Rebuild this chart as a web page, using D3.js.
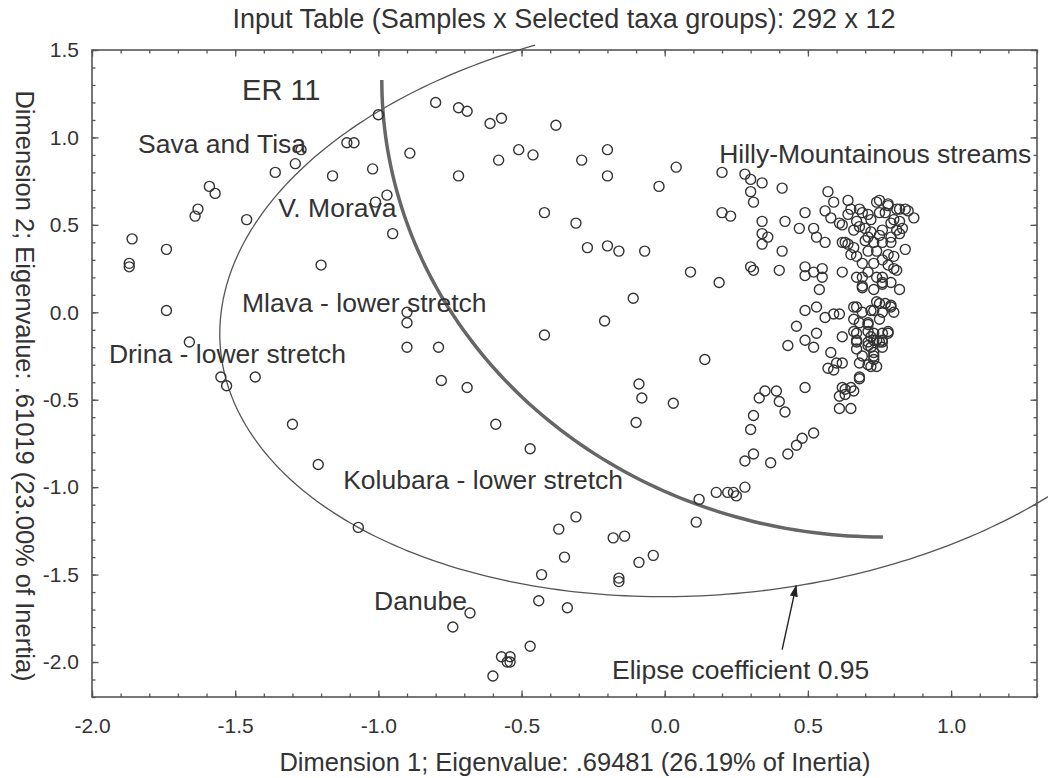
<!DOCTYPE html>
<html>
<head>
<meta charset="utf-8">
<script src="https://cdn.jsdelivr.net/npm/d3@7"></script>
<style>
  body { margin: 0; background: #fff; }
  text { font-family: "Liberation Sans", Arial, sans-serif; fill: #333; }
</style>
</head>
<body>
<svg id="chart" width="1048" height="778"></svg>
<script>
// Dimension 1 / Dimension 2 scores of the samples
var dim1 = [
  -1.00, -1.11, -1.085, -1.27, -1.29, -1.36, -1.16, -1.02, -1.59, -1.57,
  -1.63, -1.64, -1.46, -0.97, -1.01, -0.95, -1.86, -1.74, -1.87, -1.87,
  -1.20, -1.74, -0.90, -0.90, -1.66, -0.90, -0.79, -1.55, -1.53, -1.43,
  -0.78, -1.30, -0.80, -0.72, -0.69, -0.61, -0.57, -0.38, -0.89, -0.72,
  -0.58, -0.51, -0.46, -0.29, -0.20, -0.20, -0.42, -0.31, -0.27, -0.20,
  -0.16, -0.07, -0.11, -0.21, -0.42, -0.69, -0.59, -0.47, -0.09, -0.08,
  -0.10, 0.03, -1.21, -1.07, -0.31, -0.37, -0.18, -0.14, -0.35, -0.09,
  -0.04, -0.43, -0.16, -0.16, 0.12, 0.11, -0.44, -0.34, -0.68, -0.74,
  -0.47, -0.57, -0.54, -0.54, -0.55, -0.60, 0.14, 0.43, 0.49, 0.52,
  0.53, 0.62, 0.58, 0.60, 0.57, 0.59, 0.49, 0.68, 0.62, 0.65,
  0.63, 0.61, 0.65, 0.35, 0.39, 0.33, 0.40, 0.31, 0.42, 0.30,
  0.52, 0.48, 0.46, 0.43, 0.31, 0.28, 0.37, 0.28, 0.24, 0.22,
  0.25, 0.18, 0.67, 0.71, 0.74, 0.76, 0.78, 0.67, 0.69, 0.73,
  0.72, 0.73, 0.68, 0.04, -0.02, 0.20, 0.28, 0.30, 0.34, 0.30,
  0.31, 0.41, 0.20, 0.23, 0.34, 0.42, 0.34, 0.36, 0.34, 0.41,
  0.30, 0.31, 0.40, 0.09, 0.19, 0.57, 0.59, 0.64, 0.49, 0.56,
  0.58, 0.61, 0.64, 0.47, 0.52, 0.53, 0.56, 0.62, 0.64, 0.49,
  0.52, 0.55, 0.49, 0.55, 0.54, 0.62, 0.69, 0.69, 0.49, 0.53,
  0.56, 0.59, 0.46, 0.65, 0.68, 0.71, 0.74, 0.78, 0.81, 0.68,
  0.72, 0.75, 0.79, 0.71, 0.75, 0.79, 0.71, 0.74, 0.78, 0.69,
  0.73, 0.76, 0.67, 0.71, 0.74, 0.76, 0.69, 0.73, 0.67, 0.72,
  0.75, 0.79, 0.66, 0.71, 0.75, 0.67, 0.72, 0.76, 0.75, 0.78,
  0.82, 0.84, 0.85, 0.87, 0.69, 0.77, 0.67, 0.80, 0.82, 0.83,
  0.62, 0.66, 0.70, 0.72, 0.76, 0.81, 0.82, 0.63, 0.66, 0.70,
  0.73, 0.76, 0.79, 0.65, 0.67, 0.80, 0.84, 0.78, 0.80, 0.76,
  0.81, 0.76, 0.79, 0.82, 0.66, 0.74, 0.77, 0.79, 0.80, 0.61,
  0.69, 0.73, 0.76, 0.78, 0.68, 0.71, 0.66, 0.71, 0.73, 0.76,
  0.67, 0.71, 0.73, 0.75, 0.72, 0.73, 0.76, 0.71, 0.74, 0.62,
  0.68, 0.66, 0.63, 0.61
];
var dim2 = [
  1.13, 0.97, 0.97, 0.93, 0.85, 0.80, 0.78, 0.82, 0.72, 0.68,
  0.59, 0.55, 0.53, 0.67, 0.63, 0.45, 0.42, 0.36, 0.28, 0.26,
  0.27, 0.01, 0.00, -0.06, -0.17, -0.20, -0.20, -0.37, -0.42, -0.37,
  -0.39, -0.64, 1.20, 1.17, 1.15, 1.08, 1.11, 1.07, 0.91, 0.78,
  0.87, 0.93, 0.90, 0.87, 0.93, 0.78, 0.57, 0.51, 0.37, 0.38,
  0.35, 0.35, 0.08, -0.05, -0.13, -0.43, -0.64, -0.78, -0.41, -0.49,
  -0.63, -0.52, -0.87, -1.23, -1.17, -1.24, -1.29, -1.28, -1.40, -1.43,
  -1.39, -1.50, -1.52, -1.54, -1.07, -1.20, -1.65, -1.69, -1.72, -1.80,
  -1.91, -1.97, -1.97, -2.00, -2.00, -2.08, -0.27, -0.19, -0.16, -0.20,
  -0.12, -0.14, -0.23, -0.29, -0.32, -0.33, -0.43, -0.38, -0.43, -0.43,
  -0.47, -0.55, -0.55, -0.45, -0.45, -0.49, -0.51, -0.59, -0.57, -0.67,
  -0.69, -0.72, -0.76, -0.81, -0.81, -0.85, -0.86, -1.00, -1.03, -1.03,
  -1.05, -1.03, -0.16, -0.19, -0.16, -0.17, -0.12, -0.21, -0.25, -0.25,
  -0.31, -0.27, -0.29, 0.83, 0.72, 0.80, 0.79, 0.76, 0.74, 0.69,
  0.63, 0.71, 0.57, 0.55, 0.52, 0.52, 0.45, 0.43, 0.39, 0.35,
  0.26, 0.24, 0.24, 0.23, 0.17, 0.69, 0.63, 0.64, 0.57, 0.58,
  0.54, 0.51, 0.56, 0.48, 0.48, 0.43, 0.40, 0.40, 0.39, 0.26,
  0.23, 0.25, 0.21, 0.20, 0.13, 0.23, 0.20, 0.14, 0.01, 0.03,
  -0.03, -0.01, -0.08, 0.59, 0.59, 0.56, 0.63, 0.61, 0.59, 0.49,
  0.53, 0.57, 0.51, 0.43, 0.44, 0.43, 0.35, 0.35, 0.33, 0.28,
  0.28, 0.30, 0.20, 0.23, 0.20, 0.17, 0.15, 0.13, 0.03, 0.01,
  0.05, 0.03, -0.04, -0.06, -0.04, -0.12, -0.14, -0.12, 0.64, 0.62,
  0.59, 0.59, 0.58, 0.54, 0.57, 0.57, 0.52, 0.53, 0.52, 0.48,
  0.50, 0.47, 0.48, 0.46, 0.47, 0.47, 0.45, 0.40, 0.37, 0.41,
  0.40, 0.40, 0.40, 0.33, 0.32, 0.32, 0.36, 0.27, 0.25, 0.20,
  0.24, 0.16, 0.17, 0.13, 0.03, 0.06, 0.05, 0.04, 0.00, -0.01,
  0.00, 0.01, 0.00, -0.11, -0.06, -0.07, -0.11, -0.11, -0.12, -0.16,
  -0.17, -0.17, -0.16, -0.17, -0.20, -0.23, -0.20, -0.30, -0.31, -0.29,
  -0.37, -0.45, -0.44, -0.48
];

var xMajorTicks = [-2.0, -1.5, -1.0, -0.5, 0.0, 0.5, 1.0];
var yMajorTicks = [-2.0, -1.5, -1.0, -0.5, 0.0, 0.5, 1.0, 1.5];

// group labels placed on the plane (text and anchor in dimension units)
var groupLabels = ["ER 11", "Sava and Tisa", "V. Morava", "Mlava - lower stretch",
  "Drina - lower stretch", "Kolubara - lower stretch", "Danube", "Hilly-Mountainous streams"];
var groupLabelX = [-1.476, -1.839, -1.350, -1.476, -1.941, -1.123, -1.015, 0.190];
var groupLabelY = [1.214, 0.911, 0.545, 0.002, -0.290, -1.010, -1.702, 0.854];

// 0.95 confidence ellipse: centre and two conjugate semi-axes
var ellipseCenter = [0.160, 0.038];
var ellipseAxisA = [1.7115, 0.2453];
var ellipseAxisB = [0.0880, -1.6461];

// boundary arc (quarter ellipse)
var boundaryCenter = [0.762, 1.328];
var boundaryRadii = [1.750, 2.613];

var svg = d3.select("#chart"),
    margin = {top: 50, right: 11, bottom: 81, left: 92},
    width = +svg.attr("width") - margin.left - margin.right,
    height = +svg.attr("height") - margin.top - margin.bottom;

var x = d3.scaleLinear().domain([-2.0, 1.3]).range([0, width]);
var y = d3.scaleLinear().domain([-2.2, 1.5]).range([height, 0]);

var g = svg.append("g")
    .attr("transform", "translate(" + margin.left + "," + margin.top + ")");

var fmt = function(d) { return d.toFixed(1); };
var xMinor = d3.range(-20, 14).map(function(i) { return i / 10; });
var yMinor = d3.range(-22, 16).map(function(i) { return i / 10; });

function styleAxis(sel) {
  sel.select(".domain").remove();
  sel.selectAll("line").attr("stroke", "#555").attr("stroke-width", 1.3);
  sel.selectAll("text").style("font-size", "21px").attr("fill", "#333");
  sel.attr("font-family", null).attr("font-size", null);
}

// minor ticks on all four sides, pointing inward
g.append("g").attr("transform", "translate(0," + height + ")")
  .call(d3.axisBottom(x).tickValues(xMinor).tickSize(-3.5).tickFormat("")).call(styleAxis);
g.append("g")
  .call(d3.axisTop(x).tickValues(xMinor).tickSize(-3.5).tickFormat("")).call(styleAxis);
g.append("g")
  .call(d3.axisLeft(y).tickValues(yMinor).tickSize(-3.5).tickFormat("")).call(styleAxis);
g.append("g").attr("transform", "translate(" + width + ",0)")
  .call(d3.axisRight(y).tickValues(yMinor).tickSize(-3.5).tickFormat("")).call(styleAxis);

// major ticks
g.append("g").attr("transform", "translate(0," + height + ")")
  .call(d3.axisBottom(x).tickValues(xMajorTicks).tickSize(-6.5).tickPadding(21).tickFormat(fmt)).call(styleAxis);
g.append("g")
  .call(d3.axisLeft(y).tickValues(yMajorTicks).tickSize(-6.5).tickPadding(13).tickFormat(fmt)).call(styleAxis);
g.append("g")
  .call(d3.axisTop(x).tickValues(xMajorTicks).tickSize(-6.5).tickFormat("")).call(styleAxis);
g.append("g").attr("transform", "translate(" + width + ",0)")
  .call(d3.axisRight(y).tickValues(yMajorTicks).tickSize(-6.5).tickFormat("")).call(styleAxis);

// frame
g.append("rect")
  .attr("width", width).attr("height", height)
  .attr("fill", "none").attr("stroke", "#555").attr("stroke-width", 1.6);

// confidence ellipse (visible part only)
var ellT = d3.range(48, 253, 1).map(function(d) { return d * Math.PI / 180; });
var line = d3.line()
  .x(function(d) { return x(d[0]); })
  .y(function(d) { return y(d[1]); })
  .curve(d3.curveLinear);

g.append("path")
  .datum(ellT.map(function(t) {
    return [ellipseCenter[0] + Math.cos(t) * ellipseAxisA[0] + Math.sin(t) * ellipseAxisB[0],
            ellipseCenter[1] + Math.cos(t) * ellipseAxisA[1] + Math.sin(t) * ellipseAxisB[1]];
  }))
  .attr("d", line)
  .attr("fill", "none").attr("stroke", "#555").attr("stroke-width", 1.3);

// thick boundary arc
var arcT = d3.range(180, 271, 1).map(function(d) { return d * Math.PI / 180; });
g.append("path")
  .datum(arcT.map(function(t) {
    return [boundaryCenter[0] + boundaryRadii[0] * Math.cos(t),
            boundaryCenter[1] + boundaryRadii[1] * Math.sin(t)];
  }))
  .attr("d", line)
  .attr("fill", "none").attr("stroke", "#666").attr("stroke-width", 3.5);

// samples
g.selectAll("circle.sample")
  .data(dim1.map(function(d, i) { return [d, dim2[i]]; }))
  .enter().append("circle")
  .attr("class", "sample")
  .attr("cx", function(d) { return x(d[0]); })
  .attr("cy", function(d) { return y(d[1]); })
  .attr("r", 5)
  .attr("fill", "none")
  .attr("stroke", "#333")
  .attr("stroke-width", 1.4);

// group labels
g.selectAll("text.group")
  .data(groupLabels)
  .enter().append("text")
  .attr("class", "group")
  .attr("x", function(d, i) { return x(groupLabelX[i]); })
  .attr("y", function(d, i) { return y(groupLabelY[i]); })
  .style("font-size", function(d, i) { return i === 0 ? "29px" : "26.5px"; })
  .attr("fill", "#2b2b2b")
  .text(function(d) { return d; });

// ellipse annotation with arrow
svg.append("defs").append("marker")
  .attr("id", "arrow")
  .attr("markerUnits", "userSpaceOnUse")
  .attr("viewBox", "0 0 12 8")
  .attr("markerWidth", 12).attr("markerHeight", 8)
  .attr("refX", 11).attr("refY", 4)
  .attr("orient", "auto")
  .append("path").attr("d", "M0,0 L12,4 L0,8 Z").attr("fill", "#222");

g.append("line")
  .attr("x1", x(0.410)).attr("y1", y(-1.929))
  .attr("x2", x(0.459)).attr("y2", y(-1.563))
  .attr("stroke", "#222").attr("stroke-width", 1.4)
  .attr("marker-end", "url(#arrow)");

g.append("text")
  .attr("x", x(-0.184)).attr("y", y(-2.096))
  .style("font-size", "26.5px")
  .attr("fill", "#2b2b2b")
  .text("Elipse coefficient 0.95");

// titles
svg.append("text")
  .attr("x", 564).attr("y", 28)
  .style("text-anchor", "middle")
  .style("font-size", "27px")
  .text("Input Table (Samples x Selected taxa groups): 292 x 12");

svg.append("text")
  .attr("x", 575).attr("y", 771)
  .style("text-anchor", "middle")
  .style("font-size", "25.5px")
  .text("Dimension 1; Eigenvalue: .69481 (26.19% of Inertia)");

svg.append("text")
  .attr("transform", "translate(16,386) rotate(90)")
  .style("text-anchor", "middle")
  .style("font-size", "25.5px")
  .text("Dimension 2; Eigenvalue: .61019 (23.00% of Inertia)");
</script>
</body>
</html>
